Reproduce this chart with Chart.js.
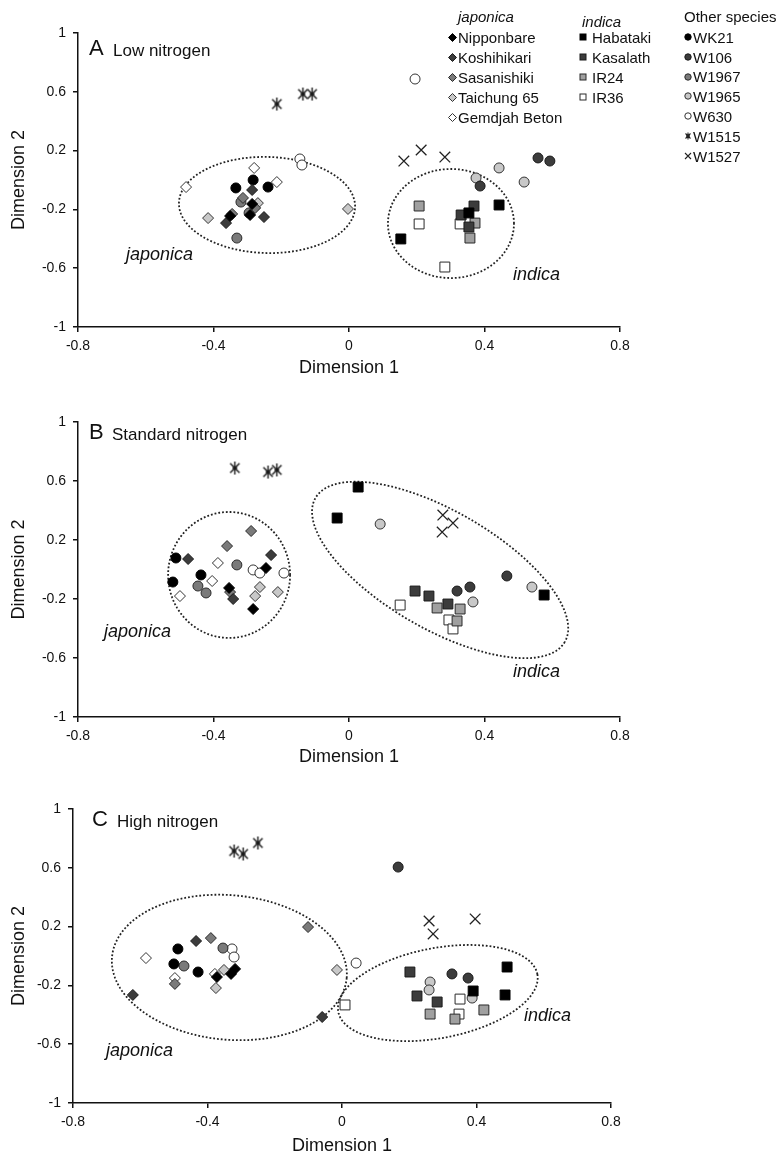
<!DOCTYPE html>
<html><head><meta charset="utf-8">
<script src="https://cdn.jsdelivr.net/npm/chart.js@4/dist/chart.umd.min.js"></script>
<style>
html,body{margin:0;padding:0;background:#fff;}
body{width:782px;height:1163px;position:relative;overflow:hidden;font-family:"Liberation Sans",Arial,sans-serif;color:#111;}
canvas{position:absolute;left:0;}
.t{position:absolute;white-space:nowrap;line-height:1;}
.m{position:absolute;line-height:0;}
.m svg{display:block;}
</style></head><body>
<canvas id="cA" width="782" height="390" style="top:0px"></canvas>
<canvas id="cB" width="782" height="390" style="top:390px"></canvas>
<canvas id="cC" width="782" height="383" style="top:780px"></canvas>
<script>
// ---------- categories / labels ----------
const japonicaVarieties = ['Nipponbare','Koshihikari','Sasanishiki','Taichung 65','Gemdjah Beton'];
const indicaVarieties = ['Habataki','Kasalath','IR24','IR36'];
const otherSpecies = ['WK21','W106','W1967','W1965','W630','W1515','W1527'];
const legendHeaders = ['japonica','indica','Other species'];
const panelLetters = ['A','B','C'];
const panelTitles = ['Low nitrogen','Standard nitrogen','High nitrogen'];
const groupLabels = ['japonica','indica'];
const xTickValues = [-0.8,-0.4,0,0.4,0.8];
const xTickLabels = ['-0.8','-0.4','0','0.4','0.8'];
const yTickValues = [1,0.6,0.2,-0.2,-0.6,-1];
const yTickLabels = ['1','0.6','0.2','-0.2','-0.6','-1'];
const xTitle = 'Dimension 1';
const yTitle = 'Dimension 2';

// ---------- A: Low nitrogen ----------
const low_Nipponbare = [[-0.351,-0.245],[-0.292,-0.238],[-0.286,-0.163]];
const low_Koshihikari = [[-0.363,-0.293],[-0.286,-0.068],[-0.251,-0.252]];
const low_Sasanishiki = [[-0.313,-0.122],[-0.277,-0.19],[-0.345,-0.231]];
const low_Taichung65 = [[-0.416,-0.259],[-0.269,-0.157],[-0.003,-0.197]];
const low_GemdjahBeton = [[-0.481,-0.048],[-0.28,0.082],[-0.213,-0.014]];
const low_Habataki = [[0.443,-0.170],[0.153,-0.401],[0.354,-0.224]];
const low_Kasalath = [[0.369,-0.177],[0.331,-0.238],[0.354,-0.32]];
const low_IR24 = [[0.207,-0.177],[0.372,-0.293],[0.357,-0.395]];
const low_IR36 = [[0.207,-0.299],[0.328,-0.299],[0.283,-0.592]];
const low_WK21 = [[-0.334,-0.054],[-0.283,0.0],[-0.239,-0.048]];
const low_W106 = [[0.558,0.150],[0.593,0.129],[0.387,-0.041]];
const low_W1967 = [[-0.331,-0.395],[-0.319,-0.150],[-0.295,-0.224]];
const low_W1965 = [[0.375,0.014],[0.443,0.082],[0.517,-0.014]];
const low_W630 = [[-0.145,0.143],[-0.139,0.102],[0.195,0.687]];
const low_W1515 = [[-0.213,0.517],[-0.136,0.585],[-0.109,0.585]];
const low_W1527 = [[0.162,0.129],[0.213,0.204],[0.283,0.156]];

// ---------- B: Standard nitrogen ----------
const std_Nipponbare = [[-0.354,-0.125],[-0.283,-0.268],[-0.245,0.010]];
const std_Koshihikari = [[-0.475,0.071],[-0.342,-0.200],[-0.230,0.098]];
const std_Sasanishiki = [[-0.289,0.261],[-0.360,0.159],[-0.351,-0.153]];
const std_Taichung65 = [[-0.263,-0.119],[-0.277,-0.180],[-0.210,-0.153]];
const std_GemdjahBeton = [[-0.387,0.044],[-0.404,-0.078],[-0.499,-0.180]];
const std_Habataki = [[0.027,0.559],[-0.035,0.349],[0.576,-0.173]];
const std_Kasalath = [[0.195,-0.146],[0.236,-0.180],[0.292,-0.234]];
const std_IR24 = [[0.260,-0.261],[0.328,-0.268],[0.319,-0.349]];
const std_IR36 = [[0.151,-0.241],[0.295,-0.342],[0.307,-0.403]];
const std_WK21 = [[-0.511,0.078],[-0.520,-0.085],[-0.437,-0.037]];
const std_W106 = [[0.466,-0.044],[0.357,-0.119],[0.319,-0.146]];
const std_W1967 = [[-0.331,0.031],[-0.446,-0.112],[-0.422,-0.159]];
const std_W1965 = [[0.092,0.308],[0.540,-0.119],[0.366,-0.220]];
const std_W630 = [[-0.283,-0.003],[-0.263,-0.024],[-0.192,-0.024]];
const std_W1515 = [[-0.337,0.688],[-0.239,0.661],[-0.213,0.675]];
const std_W1527 = [[0.277,0.369],[0.307,0.315],[0.275,0.254]];

// ---------- C: High nitrogen ----------
const high_Nipponbare = [[-0.372,-0.143],[-0.330,-0.122],[-0.318,-0.088]];
const high_Koshihikari = [[-0.434,0.102],[-0.622,-0.265],[-0.059,-0.415]];
const high_Sasanishiki = [[-0.390,0.122],[-0.101,0.197],[-0.497,-0.190]];
const high_Taichung65 = [[-0.351,-0.095],[-0.375,-0.218],[-0.015,-0.095]];
const high_GemdjahBeton = [[-0.583,-0.014],[-0.497,-0.150],[-0.378,-0.122]];
const high_Habataki = [[0.491,-0.075],[0.485,-0.265],[0.390,-0.238]];
const high_Kasalath = [[0.202,-0.109],[0.223,-0.272],[0.283,-0.313]];
const high_IR24 = [[0.262,-0.395],[0.336,-0.429],[0.422,-0.367]];
const high_IR36 = [[0.009,-0.333],[0.351,-0.293],[0.348,-0.395]];
const high_WK21 = [[-0.488,0.048],[-0.500,-0.054],[-0.428,-0.109]];
const high_W106 = [[0.167,0.605],[0.327,-0.122],[0.375,-0.150]];
const high_W1967 = [[-0.470,-0.068],[-0.354,0.054]];
const high_W1965 = [[0.262,-0.177],[0.259,-0.231],[0.387,-0.286]];
const high_W630 = [[-0.327,0.048],[-0.321,-0.007],[0.042,-0.048]];
const high_W1515 = [[-0.321,0.714],[-0.294,0.694],[-0.250,0.769]];
const high_W1527 = [[0.259,0.238],[0.271,0.150],[0.396,0.252]];

const lowSeries = [low_Nipponbare,low_Koshihikari,low_Sasanishiki,low_Taichung65,low_GemdjahBeton,low_Habataki,low_Kasalath,low_IR24,low_IR36,low_WK21,low_W106,low_W1967,low_W1965,low_W630,low_W1515,low_W1527];
const stdSeries = [std_Nipponbare,std_Koshihikari,std_Sasanishiki,std_Taichung65,std_GemdjahBeton,std_Habataki,std_Kasalath,std_IR24,std_IR36,std_WK21,std_W106,std_W1967,std_W1965,std_W630,std_W1515,std_W1527];
const highSeries = [high_Nipponbare,high_Koshihikari,high_Sasanishiki,high_Taichung65,high_GemdjahBeton,high_Habataki,high_Kasalath,high_IR24,high_IR36,high_WK21,high_W106,high_W1967,high_W1965,high_W630,high_W1515,high_W1527];

// group ellipses (annotation shapes, in data units: centre + two half-axis vectors)
const lowEllipses = [
  {cx:-0.242, cy:-0.170, ux:0.26, uy:-0.01, vx:0, vy:0.327},
  {cx:0.301, cy:-0.296, ux:0.186, uy:0, vx:0, vy:0.371}
];
const stdEllipses = [
  {cx:-0.354, cy:-0.037, ux:0.180, uy:0, vx:0, vy:0.427},
  {cx:0.269, cy:-0.003, ux:0.368, uy:-0.488, vx:-0.087, vy:-0.346}
];
const highEllipses = [
  {cx:-0.335, cy:-0.078, ux:0.349, uy:-0.07, vx:-0.018, vy:-0.49},
  {cx:0.285, cy:-0.252, ux:0.296, uy:0.128, vx:0.0248, vy:-0.301}
];

// ---------- styles ----------
const FONT = '"Liberation Sans", Arial, sans-serif';
const seriesNames = japonicaVarieties.concat(indicaVarieties, otherSpecies);
const seriesStyles = [
  {shape:'rectRot', fill:'#000000', stroke:'#000000', r:5.5},
  {shape:'rectRot', fill:'#3c3c3c', stroke:'#1a1a1a', r:5.5},
  {shape:'rectRot', fill:'#7a7a7a', stroke:'#2a2a2a', r:5.5},
  {shape:'rectRot', fill:'#c8c8c8', stroke:'#333333', r:5.5},
  {shape:'rectRot', fill:'#ffffff', stroke:'#333333', r:5.5},
  {shape:'rect', fill:'#000000', stroke:'#000000', r:7},
  {shape:'rect', fill:'#3c3c3c', stroke:'#1a1a1a', r:7},
  {shape:'rect', fill:'#a0a0a0', stroke:'#2a2a2a', r:7},
  {shape:'rect', fill:'#ffffff', stroke:'#2a2a2a', r:7},
  {shape:'circle', fill:'#000000', stroke:'#000000', r:5},
  {shape:'circle', fill:'#3c3c3c', stroke:'#1a1a1a', r:5},
  {shape:'circle', fill:'#7a7a7a', stroke:'#2a2a2a', r:5},
  {shape:'circle', fill:'#c8c8c8', stroke:'#333333', r:5},
  {shape:'circle', fill:'#ffffff', stroke:'#333333', r:5},
  {shape:'star', fill:'#222222', stroke:'#222222', r:7},
  {shape:'crossRot', fill:'#222222', stroke:'#222222', r:7.5}
];

function makeStar(size){
  const c=document.createElement('canvas'); c.width=size; c.height=size;
  const g=c.getContext('2d'); g.strokeStyle='#1a1a1a'; g.lineWidth=1.4;
  const m=size/2, r=size/2-1, d=r*0.72;
  g.beginPath();
  g.moveTo(m,m-r); g.lineTo(m,m+r);
  g.moveTo(m-d,m-d); g.lineTo(m+d,m+d);
  g.moveTo(m+d,m-d); g.lineTo(m-d,m+d);
  g.moveTo(m-d*0.5,m); g.lineTo(m+d*0.5,m);
  g.stroke();
  return c;
}
const starImg = makeStar(15);

const ellipsePlugin = {
  id:'ellipses',
  beforeDatasetsDraw(chart, args, opts){
    const {ctx, scales:{x,y}} = chart;
    ctx.save();
    ctx.strokeStyle='#222'; ctx.lineWidth=1.8; ctx.setLineDash([1.8,2]);
    for (const e of (opts.list||[])) {
      ctx.beginPath();
      const N=240;
      for (let i=0;i<=N;i++){
        const t=i/N*2*Math.PI;
        const dx=e.cx+e.ux*Math.cos(t)+e.vx*Math.sin(t);
        const dy=e.cy+e.uy*Math.cos(t)+e.vy*Math.sin(t);
        const px=x.getPixelForValue(dx), py=y.getPixelForValue(dy);
        if(i===0) ctx.moveTo(px,py); else ctx.lineTo(px,py);
      }
      ctx.stroke();
    }
    ctx.restore();
  }
};

function buildChart(id, series, geo, ellipses){
  const datasets = seriesNames.map((name,i)=>{
    const st=seriesStyles[i];
    return {
      label:name,
      data: series[i].map(p=>({x:p[0], y:p[1]})),
      pointStyle: st.shape==='star' ? starImg : st.shape,
      backgroundColor: st.fill, borderColor: st.stroke,
      borderWidth: (st.shape==='crossRot') ? 1.3 : 1,
      pointRadius: st.r, pointHoverRadius: st.r, showLine:false
    };
  });
  const tickFont = {family:FONT, size:14};
  const titleFont = {family:FONT, size:18};
  return new Chart(document.getElementById(id), {
    type:'scatter',
    data:{datasets},
    options:{
      responsive:false, animation:false, events:[],
      layout:{padding:{left:0, top:geo.top, right:geo.right, bottom:0}},
      plugins:{legend:{display:false}, tooltip:{enabled:false}, ellipses:{list:ellipses}},
      scales:{
        x:{
          type:'linear', min:-0.8, max:0.8,
          afterBuildTicks: s=>{ s.ticks = xTickValues.map(v=>({value:v})); },
          ticks:{callback:(v,i)=>xTickLabels[i], font:tickFont, color:'#111', padding:6, maxRotation:0, autoSkip:false},
          grid:{drawOnChartArea:false, tickLength:5, color:'#111', lineWidth:1.5},
          border:{display:true, color:'#111', width:1.5},
          title:{display:true, text:xTitle, font:titleFont, color:'#111', padding:{top:0, bottom:geo.tb}},
          afterFit: s=>{ s.height = geo.xh; }
        },
        y:{
          type:'linear', min:-1, max:1,
          afterBuildTicks: s=>{ s.ticks = yTickValues.map(v=>({value:v})); },
          ticks:{callback:(v,i)=>yTickLabels[i], font:tickFont, color:'#111', padding:7, autoSkip:false},
          grid:{drawOnChartArea:false, tickLength:5, color:'#111', lineWidth:1.5},
          border:{display:true, color:'#111', width:1.5},
          title:{display:true, text:yTitle, font:titleFont, color:'#111', padding:{top:8, bottom:0}},
          afterFit: s=>{ s.width = geo.yw; }
        }
      }
    },
    plugins:[ellipsePlugin]
  });
}

buildChart('cA', lowSeries, {top:33, right:162, yw:78, xh:63, tb:11}, lowEllipses);
buildChart('cB', stdSeries, {top:32, right:162, yw:78, xh:63, tb:12}, stdEllipses);
buildChart('cC', highSeries, {top:29, right:171, yw:73, xh:60, tb:6}, highEllipses);

// ---------- text overlays ----------
function addText(txt, x, base, size, italic){
  const d=document.createElement('div'); d.className='t'; d.textContent=txt;
  d.style.left=x+'px'; d.style.top=(base-0.8465*size)+'px'; d.style.fontSize=size+'px';
  if(italic) d.style.fontStyle='italic';
  document.body.appendChild(d);
}
// panel titles
const letterPos = [[89,56],[89,440],[92,827]];
const titlePos = [[113,56],[112,440],[117,827]];
panelLetters.forEach((l,i)=>addText(l, letterPos[i][0], letterPos[i][1], 22, false));
panelTitles.forEach((t,i)=>addText(t, titlePos[i][0], titlePos[i][1], 17, false));
// group labels
const groupPos = [
  [[126,260],[513,280]],
  [[104,637],[513,677]],
  [[106,1056],[524,1021]]
];
groupPos.forEach(p=>{ groupLabels.forEach((g,j)=>addText(g, p[j][0], p[j][1], 18, true)); });

// ---------- legend ----------
function markerSvg(st, s){
  const h=s/2; let inner='';
  const a=`fill="${st.fill}" stroke="${st.stroke}" stroke-width="1"`;
  if(st.shape==='circle') inner=`<circle cx="${h}" cy="${h}" r="${h-0.8}" ${a}/>`;
  else if(st.shape==='rectRot') inner=`<polygon points="${h},0.5 ${s-0.5},${h} ${h},${s-0.5} 0.5,${h}" ${a}/>`;
  else if(st.shape==='rect') inner=`<rect x="1" y="1" width="${s-2}" height="${s-2}" ${a}/>`;
  else if(st.shape==='crossRot') inner=`<path d="M1 1L${s-1} ${s-1}M${s-1} 1L1 ${s-1}" stroke="#222" stroke-width="1.1"/>`;
  else inner=`<path d="M${h} 0.5V${s-0.5}M1.5 1.5L${s-1.5} ${s-1.5}M${s-1.5} 1.5L1.5 ${s-1.5}M${h-2} ${h}H${h+2}" stroke="#222" stroke-width="1.1"/>`;
  return `<svg width="${s}" height="${s}" viewBox="0 0 ${s} ${s}">${inner}</svg>`;
}
function addMarker(st, cx, cy, s){
  const d=document.createElement('div'); d.className='m';
  d.style.left=(cx-s/2)+'px'; d.style.top=(cy-s/2)+'px';
  d.innerHTML=markerSvg(st,s); document.body.appendChild(d);
}
const LEG = 15;
addText(legendHeaders[0], 458, 21.5, LEG, true);
addText(legendHeaders[1], 582, 26.5, LEG, true);
addText(legendHeaders[2], 684, 22, LEG, false);
japonicaVarieties.forEach((n,i)=>{
  const cy=37+i*20; addMarker(seriesStyles[i], 452, cy, 9);
  addText(n, 458, cy+5.4, LEG, false);
});
indicaVarieties.forEach((n,i)=>{
  const cy=37+i*20; addMarker(seriesStyles[5+i], 582.5, cy, 8);
  addText(n, 592, cy+5.4, LEG, false);
});
otherSpecies.forEach((n,i)=>{
  const cy=37+i*19.8; addMarker(seriesStyles[9+i], 687.5, cy, 8);
  addText(n, 693, cy+5.4, LEG, false);
});
</script>
</body></html>
